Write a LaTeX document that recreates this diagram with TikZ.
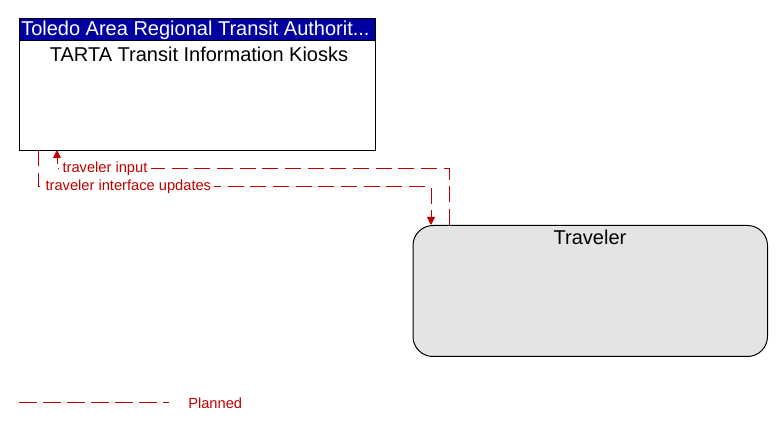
\documentclass[tikz,border=0pt]{standalone}
\usepackage{fontspec}
\setmainfont{Liberation Sans}
\usetikzlibrary{arrows.meta}
\definecolor{flowred}{RGB}{192,0,0}
\definecolor{hdrblue}{RGB}{0,0,160}
\definecolor{travgray}{RGB}{228,228,228}
\tikzset{
  flow/.style={draw=flowred, line width=0.75pt, dash pattern=on 12pt off 5pt},
  tip/.style={-{Triangle[length=6pt,width=6pt]}},
  flowlabel/.style={text=flowred, font=\fontsize{11}{13}\selectfont, inner ysep=1pt, inner xsep=2.5pt, fill=white, anchor=west},
  boxtitle/.style={font=\fontsize{15}{17}\selectfont, anchor=center, inner sep=0}
}
\begin{document}
\begin{tikzpicture}[x=0.75pt,y=-0.75pt]
\useasboundingbox (0,0) rectangle (783,431);
% TARTA box
\node[fill=white, minimum width=356*0.75pt, minimum height=131*0.75pt, inner sep=0, anchor=north west] (kiosk) at (19,19) {};
\fill[hdrblue] (19,19) rectangle (375,41);
\draw[line width=0.75pt] (kiosk.north west) rectangle (kiosk.south east);
\draw[line width=0.75pt] (19,41) -- (375,41);
\node[anchor=west, text=white, font=\fontsize{15}{17}\selectfont, inner sep=0] (hdr) at (21,30.5) {Toledo Area Regional Transit Authorit...};
\node[boxtitle] (ktitle) at (199,54) {TARTA Transit Information Kiosks};
% Traveler box
\node[draw=black, line width=0.75pt, fill=travgray, rounded corners=15pt, minimum width=354.5*0.75pt, minimum height=131*0.75pt, inner sep=0, anchor=north west] (trav) at (412.5,225) {};
\node[boxtitle] (ttitle) at (590,237) {Traveler};
% coordinates
\coordinate (k1) at (57,150);
\coordinate (k2) at (38,150);
\coordinate (t1) at (449,225);
\coordinate (t2) at (431,225);
% traveler input: traveler -> kiosk
\draw[flow, tip] (t1) -- (449,169) -- (57,169) -- (k1);
\node[flowlabel] (l1) at (59,169) {traveler input};
% traveler interface updates: kiosk -> traveler
\draw[flow, tip] (k2) -- (38,187) -- (431,187) -- (t2);
\node[flowlabel] (l2) at (42,187) {traveler interface updates};
% legend
\coordinate (lg1) at (19,403);
\coordinate (lg2) at (169,403);
\draw[flow, dash pattern=on 13.5pt off 4.5pt] (lg1) -- (lg2);
\node[text=flowred, font=\fontsize{11}{13}\selectfont, anchor=west, inner sep=0] (legend) at (188,403) {Planned};
\end{tikzpicture}
\end{document}
